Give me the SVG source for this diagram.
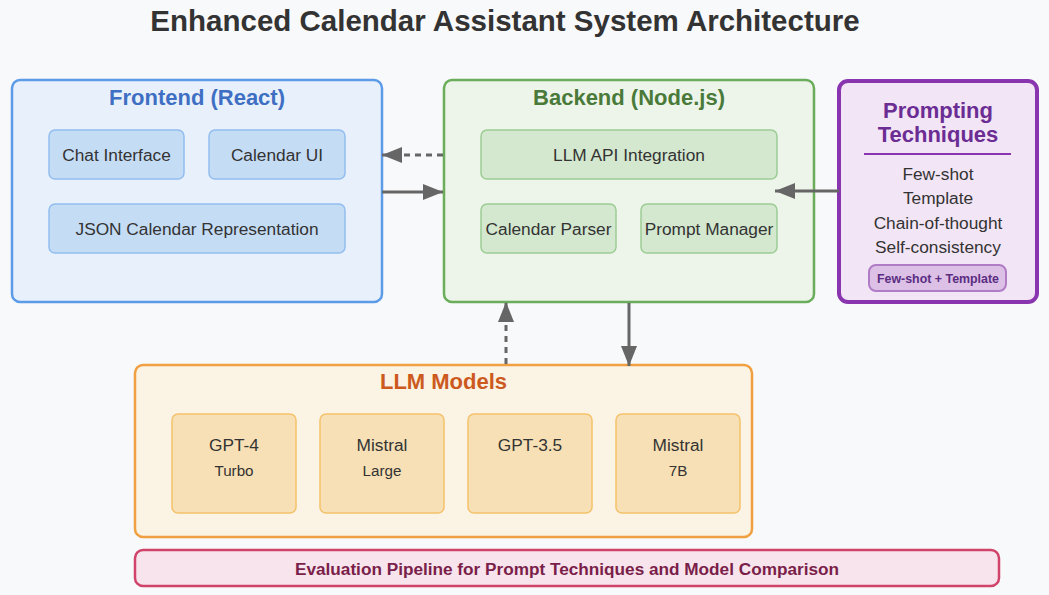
<svg xmlns="http://www.w3.org/2000/svg" width="1049" height="595" viewBox="0 0 1049 595">
<defs>
<marker id="a" viewBox="0 0 20 16" refX="20" refY="8" markerWidth="20" markerHeight="16" markerUnits="userSpaceOnUse" orient="auto">
<path d="M0,0 L20,8 L0,16 z" fill="#666"/>
</marker>
<style>
text{font-family:"Liberation Sans",Arial,sans-serif;}
.h{font-size:22px;font-weight:bold;text-anchor:middle;}
.t{font-size:17.3px;fill:#333;text-anchor:middle;}
.s{font-size:15.2px;fill:#333;text-anchor:middle;}
.fo{fill:#e8f1fb;stroke:#5b9be8;stroke-width:2.5;}
.fi{fill:#c5dcf5;stroke:#92bdf0;stroke-width:1.5;}
.bo{fill:#edf5ea;stroke:#6aad5a;stroke-width:2.5;}
.bi{fill:#d3e8cf;stroke:#9ccc94;stroke-width:1.5;}
.lo{fill:#fbf3e3;stroke:#f0a040;stroke-width:2.5;}
.li{fill:#f7e0b5;stroke:#f5c26b;stroke-width:1.5;}
.c{stroke:#666;stroke-width:3;fill:none;marker-end:url(#a);}
.d{stroke-dasharray:6,5;}
</style>
</defs>
<rect x="0" y="0" width="1049" height="595" fill="#f8f9fa"/>
<text x="505" y="31" font-size="29.5" font-weight="bold" fill="#333" text-anchor="middle">Enhanced Calendar Assistant System Architecture</text>

<g id="frontend">
<rect class="fo" x="12" y="80" width="370" height="222" rx="8"/>
<text class="h" x="197" y="105" fill="#3f6fc3">Frontend (React)</text>
<g id="chat-interface"><rect class="fi" x="49" y="130" width="135" height="49" rx="6"/><text class="t" x="116.5" y="161">Chat Interface</text></g>
<g id="calendar-ui"><rect class="fi" x="209" y="130" width="136" height="49" rx="6"/><text class="t" x="277" y="161">Calendar UI</text></g>
<g id="json-calendar"><rect class="fi" x="49" y="204" width="296" height="49" rx="6"/><text class="t" x="197" y="235">JSON Calendar Representation</text></g>
</g>

<g id="backend">
<rect class="bo" x="444" y="80" width="370" height="222" rx="8"/>
<text class="h" x="629" y="105" fill="#4a7a3a">Backend (Node.js)</text>
<g id="llm-api"><rect class="bi" x="481" y="130" width="296" height="49" rx="6"/><text class="t" x="629" y="161">LLM API Integration</text></g>
<g id="calendar-parser"><rect class="bi" x="481" y="204" width="135" height="49" rx="6"/><text class="t" x="548.5" y="235">Calendar Parser</text></g>
<g id="prompt-manager"><rect class="bi" x="641" y="204" width="136" height="49" rx="6"/><text class="t" x="709" y="235">Prompt Manager</text></g>
</g>

<g id="prompting">
<rect x="839" y="81" width="198" height="221" rx="9" fill="#f2e5f5" stroke="#8a35b0" stroke-width="4"/>
<text class="h" x="938" y="118" fill="#6b2d94" font-size="23">Prompting</text>
<text class="h" x="938" y="142" fill="#6b2d94" font-size="23">Techniques</text>
<line x1="864" y1="154" x2="1011" y2="154" stroke="#8a35b0" stroke-width="2"/>
<text class="t" x="938" y="180">Few-shot</text>
<text class="t" x="938" y="204">Template</text>
<text class="t" x="938" y="229">Chain-of-thought</text>
<text class="t" x="938" y="253">Self-consistency</text>
<rect x="869" y="265" width="137" height="26" rx="7" fill="#dcc0e6" stroke="#b07cc6" stroke-width="2"/>
<text x="938" y="283" font-size="12.4" font-weight="bold" fill="#5a2d82" text-anchor="middle">Few-shot + Template</text>
</g>

<g id="llm-models">
<rect class="lo" x="135" y="365" width="617" height="172" rx="8"/>
<text class="h" x="443.5" y="389" fill="#cc5a1e">LLM Models</text>
<g id="gpt4"><rect class="li" x="172" y="414" width="124" height="99" rx="6"/><text class="t" x="234" y="451">GPT-4</text><text class="s" x="234" y="476">Turbo</text></g>
<g id="mistral-large"><rect class="li" x="320" y="414" width="124" height="99" rx="6"/><text class="t" x="382" y="451">Mistral</text><text class="s" x="382" y="476">Large</text></g>
<g id="gpt35"><rect class="li" x="468" y="414" width="124" height="99" rx="6"/><text class="t" x="530" y="451">GPT-3.5</text></g>
<g id="mistral-7b"><rect class="li" x="616" y="414" width="124" height="99" rx="6"/><text class="t" x="678" y="451">Mistral</text><text class="s" x="678" y="476">7B</text></g>
</g>

<g id="evaluation">
<rect x="135" y="550" width="864" height="36" rx="8" fill="#f8e4ec" stroke="#d0436a" stroke-width="2.5"/>
<text x="567" y="575" font-size="17.2" font-weight="bold" fill="#7a1e4a" text-anchor="middle">Evaluation Pipeline for Prompt Techniques and Model Comparison</text>
</g>

<g id="connectors">
<line class="c d" x1="443" y1="155" x2="382" y2="155"/>
<line class="c" x1="382" y1="192" x2="443" y2="192"/>
<line class="c" x1="839" y1="191" x2="775" y2="191"/>
<line class="c d" x1="506" y1="364" x2="506" y2="302"/>
<line class="c" x1="629" y1="303" x2="629" y2="366"/>
</g>
</svg>
